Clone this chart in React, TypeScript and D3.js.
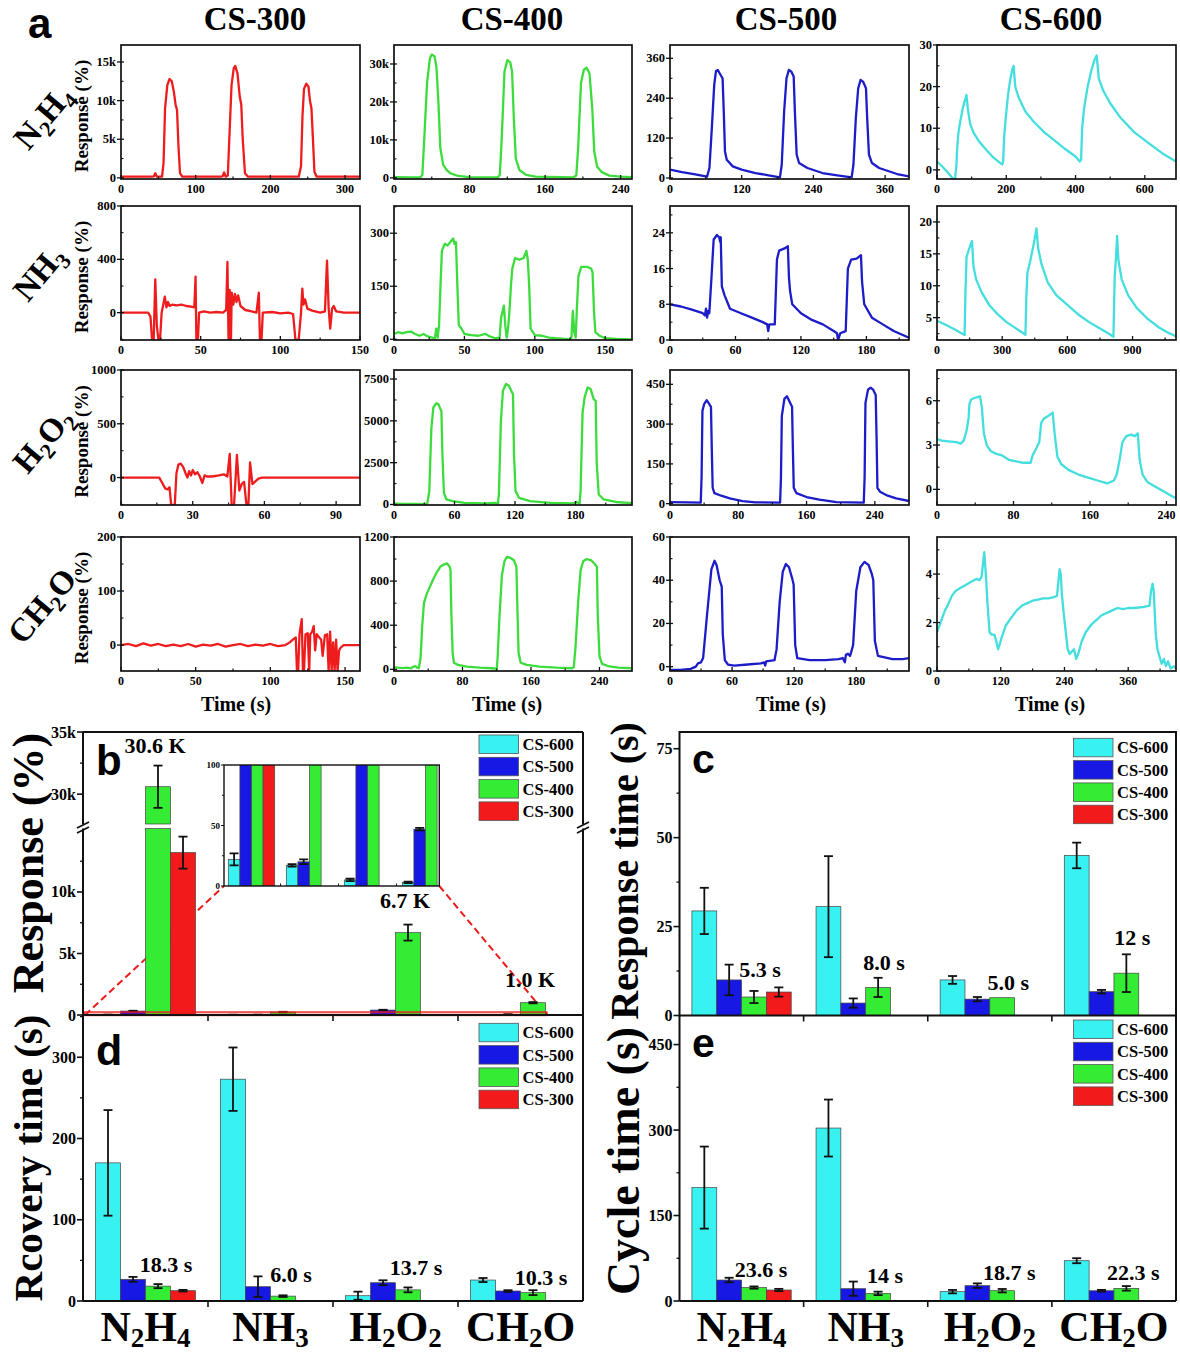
import React from "react";
import * as d3 from "d3";

const SERIF = "'Liberation Serif','Times New Roman',serif";
const SANS = "'Liberation Sans',Arial,sans-serif";

// ---------------- Panel a: time-response curves ----------------
const samples = ["CS-300", "CS-400", "CS-500", "CS-600"];
const lineColors = ["#ee1c1c", "#3ddc3d", "#1c1cc8", "#44dede"];
const gasKeys = ["N2H4", "NH3", "H2O2", "CH2O"];

const n2h4_300 = [[0,150],[40,150],[44,200],[46,600],[48,150],[55,150],[57,2000],[59,9000],[62,12000],[65,12800],[68,12500],[71,11000],[73,9500],[75,8800],[77,4000],[79,600],[82,150],[133,150],[136,200],[138,700],[140,150],[143,300],[145,5000],[148,12000],[151,14200],[153,14500],[156,13500],[159,10500],[161,9500],[163,5000],[166,600],[170,150],[238,150],[241,1500],[243,8000],[245,11500],[248,12200],[251,11800],[253,10000],[255,9000],[257,5000],[259,800],[262,150],[320,150]];
const n2h4_400 = [[0,200],[20,150],[28,150],[30,800],[32,10000],[35,25000],[38,31500],[40,32500],[43,32000],[45,29000],[47,20000],[49,8000],[52,3500],[56,2000],[60,1200],[68,500],[80,200],[110,150],[112,800],[114,10000],[117,28000],[120,31000],[123,30500],[125,28000],[127,15000],[129,5000],[133,2000],[140,800],[150,300],[190,150],[193,600],[195,8000],[198,25000],[201,28500],[204,29000],[207,27500],[210,18000],[212,7000],[215,3000],[220,1500],[228,600],[240,300],[252,200]];
const n2h4_500 = [[0,25],[20,18],[40,12],[62,4],[66,30],[70,150],[74,280],[77,322],[80,325],[84,312],[88,300],[90,200],[92,80],[95,55],[105,35],[120,25],[143,15],[165,8],[184,2],[187,40],[191,200],[195,300],[199,325],[203,320],[207,305],[209,200],[212,70],[216,45],[230,30],[255,15],[280,8],[304,2],[307,40],[311,180],[315,270],[319,295],[323,290],[328,270],[330,180],[333,70],[338,45],[350,30],[380,12],[400,5]];
const n2h4_600 = [[0,2],[15,0.8],[30,-0.5],[45,-2],[52,-2.3],[56,1],[58,5],[62,9],[68,12],[75,15],[80,16.5],[85,18],[90,14],[96,11],[105,9],[120,7],[140,5],[160,3.2],[180,1.8],[188,1.3],[191,2],[194,8],[198,12],[205,18],[212,22],[217,24],[221,25],[226,20],[235,17.5],[255,14],[280,11.5],[310,9],[340,7],[370,5],[400,3.2],[412,2],[416,2.5],[419,10],[425,15],[435,20],[446,24],[455,26.5],[461,27.5],[467,22],[480,19],[500,16],[530,12.5],[570,9],[610,6.5],[650,4],[690,2]];

const nh3_300 = [[0,0],[17,0],[18.5,-30],[19.5,-205],[20.5,-205],[21.5,250],[22.5,-100],[23.5,-205],[24.5,-205],[25.5,0],[26.5,60],[27.5,120],[28.5,40],[29.5,80],[30.5,50],[32,60],[35,55],[38,60],[41,50],[44,45],[46,40],[46.8,270],[47.3,-205],[48.3,-205],[49,0],[52,10],[56,0],[60,5],[64,0],[66,20],[66.8,380],[67.5,-205],[68.2,170],[69,-205],[69.5,150],[70.5,60],[71.5,140],[72.5,80],[73.5,130],[75,50],[78,20],[82,10],[85,0],[86.5,150],[87.2,-205],[88.2,-205],[89,0],[95,5],[100,-5],[105,0],[108,-10],[109.5,-205],[111.5,-205],[113,0],[113.8,180],[114.5,60],[115.5,100],[117,30],[120,15],[125,0],[128,10],[129.3,390],[130.3,40],[131.3,-120],[132.5,30],[133.5,50],[135,10],[140,0],[150,0]];
const nh3_400 = [[0,15],[3,20],[6,17],[9,20],[12,22],[15,15],[18,10],[21,15],[24,8],[27,5],[29,3],[30,30],[31,5],[32,40],[33,150],[34,250],[36,270],[38,265],[40,275],[42,285],[43,270],[44,275],[45,150],[46,40],[48,30],[50,15],[55,12],[60,10],[65,15],[68,8],[72,3],[75,5],[76,60],[78,95],[79,40],[80,5],[81,30],[82,80],[83,150],[84,200],[86,230],[89,225],[92,230],[94,250],[95,225],[96,150],[97,30],[100,12],[105,10],[110,5],[115,3],[125,0],[126,5],[127,80],[128,20],[129,5],[130,100],[131,180],[133,205],[137,205],[140,200],[141,190],[142,80],[143,20],[146,10],[150,3],[158,1],[169,0]];
const nh3_500 = [[0,8],[10,7.5],[20,6.8],[30,6],[32,5.5],[33,7],[34,5],[35,6.5],[36,6],[38,14],[40,22.5],[43,23.5],[45,23],[46,22],[46.5,23],[47.5,12],[50,10],[55,7],[65,6],[75,5],[85,4],[89,3.5],[90,2],[91,3.5],[96,3.5],[98,18],[100,20],[105,20.5],[108,21],[109,14],[110,11],[112,8],[120,6],[130,4.5],[140,3.5],[150,2],[153,1.5],[154,0],[156,1.5],[161,2],[163,16],[166,18],[171,18.2],[175,19],[176,13],[178,8],[185,5],[195,3.5],[205,2],[219,0.5]];
const nh3_600 = [[0,4.5],[40,3.9],[80,3.2],[110,2.6],[127,2.3],[131,9],[136,14.5],[145,15.5],[155,16.5],[161,17],[168,13],[180,11],[205,9],[240,7],[280,5.5],[320,4.3],[360,3.4],[395,2.6],[407,2.3],[411,8],[416,12],[430,14],[445,16.5],[458,19],[465,16],[480,13.5],[510,10.5],[550,8.5],[600,7],[650,5.5],[700,4.3],[750,3.3],[795,2.4],[812,2],[815,7],[818,11.5],[823,14],[829,17.8],[835,14],[850,11],[880,8.5],[920,6.5],[970,4.8],[1020,3.5],[1060,2.7],[1100,2.1]];

const h2o2_300 = [[0,0],[16,0],[17.5,-60],[18.5,-100],[19.5,-110],[20.3,-90],[21,-255],[22.5,-255],[23.2,40],[24,120],[25,130],[26,100],[27,40],[27.8,0],[28.5,60],[29.3,20],[30,70],[31,30],[32,50],[33,10],[34,-50],[35,20],[36,10],[38,10],[41,20],[43,30],[44.5,10],[45.5,220],[46.3,-255],[47.3,-255],[48.5,210],[49.5,-120],[50.5,-60],[51.5,-40],[52.5,-255],[53.3,-255],[54,140],[55,-60],[56,-40],[57.5,-10],[59,0],[100,0]];
const h2o2_400 = [[0,50],[10,40],[20,30],[30,20],[33,60],[35,800],[37,4500],[39,5800],[42,6050],[44,6000],[46,5700],[47,5600],[48,3000],[49.5,700],[52,300],[58,200],[70,100],[90,60],[100,100],[103,50],[104,600],[106,5000],[108,6800],[111,7200],[114,7100],[117,6700],[118,6600],[119,3000],[120.5,800],[124,400],[135,200],[155,100],[178,70],[181,150],[184,60],[185,800],[187,5500],[189,6400],[192,7000],[195,6900],[198,6300],[200,6200],[201,2500],[203,600],[208,300],[220,150],[236,80]];
const h2o2_500 = [[0,6],[20,5],[36,4],[37,100],[38,350],[40,375],[43,390],[46,375],[48,365],[49,200],[50,60],[52,40],[60,30],[70,20],[85,10],[100,5],[129,4],[130,100],[131,330],[134,395],[137,405],[140,385],[143,365],[144,200],[145,60],[148,40],[160,25],[175,15],[195,6],[227,4],[228,100],[229,380],[232,430],[235,437],[238,430],[241,410],[242,250],[243,60],[246,45],[255,30],[265,20],[280,10]];
const h2o2_600 = [[0,3.4],[5,3.3],[12,3.25],[20,3.2],[25,3.1],[28,3.3],[31,4.0],[33,4.8],[34,5.8],[36,6.1],[40,6.2],[45,6.3],[47,5.5],[49,3.8],[52,3.0],[56,2.6],[62,2.4],[68,2.3],[75,2.0],[83,1.9],[90,1.8],[98,1.8],[100,2.3],[104,2.8],[107,3.2],[109,4.5],[112,4.8],[117,5.0],[121,5.2],[123,3.8],[126,2.2],[130,1.7],[138,1.3],[148,1.0],[158,0.8],[168,0.6],[178,0.4],[185,0.6],[188,1.0],[191,2.0],[194,3.2],[198,3.6],[203,3.7],[207,3.6],[210,3.8],[212,2.0],[215,1.0],[220,0.5],[228,0.2],[236,-0.1],[244,-0.4],[250,-0.6]];

const ch2o_300 = [[0,0],[5,2],[10,-2],[15,3],[20,-1],[25,2],[30,-2],[35,1],[40,-2],[45,2],[50,-3],[55,1],[60,-1],[65,2],[70,-3],[75,0],[80,2],[85,-2],[90,1],[95,-1],[100,2],[105,-2],[110,0],[113,5],[115,10],[117,14],[117.8,-48],[118.6,-48],[119.5,20],[121,48],[121.8,-48],[122.5,-48],[123.5,20],[125,22],[126,-48],[126.7,20],[128,25],[129,35],[130,-10],[131,20],[132.5,15],[134,10],[135,-20],[136.5,18],[138,20],[139,-48],[140,25],[141,-48],[142,5],[143,-48],[144,10],[145,-48],[146,-10],[147,-5],[149,0],[160,0]];
const ch2o_400 = [[0,20],[5,15],[10,12],[15,15],[20,10],[23,25],[25,30],[27,15],[29,10],[31,100],[33,400],[35,600],[38,680],[42,750],[46,820],[50,880],[54,930],[58,950],[62,960],[65,930],[66,900],[67,500],[68.5,150],[70,60],[75,40],[85,25],[100,15],[115,10],[120,5],[121,100],[123,450],[126,850],[129,980],[132,1020],[136,1010],[140,990],[143,930],[144,600],[145.5,150],[148,60],[155,40],[170,25],[190,15],[208,10],[210,20],[212,200],[215,600],[218,900],[221,980],[225,1000],[230,990],[234,960],[237,930],[238,500],[240,120],[243,50],[250,30],[262,15],[278,10]];
const ch2o_500 = [[0,-1.5],[10,-1.5],[20,-1],[25,0],[27,1.5],[30,2],[32,4],[36,25],[40,45],[43,49],[45,47],[48,40],[50,37],[51,15],[53,3],[56,1],[62,0.5],[75,1],[88,1.5],[91,2],[92,0.5],[93,2.5],[101,3],[103,8],[106,30],[109,44],[112,47.5],[115,46],[118,41],[119.5,38],[121,10],[123,4],[135,3],[150,3],[163,3.5],[167,4],[169,2],[170,5.5],[172,6],[174,5],[175,6.5],[177,10],[180,35],[184,46],[188,48.5],[192,47],[195,43],[196.5,40],[198,12],[201,5],[215,3.5],[225,3.5],[231,4]];
const ch2o_600 = [[0,1.6],[5,1.9],[10,2.2],[15,2.5],[20,2.7],[28,3.1],[35,3.3],[42,3.4],[50,3.5],[58,3.6],[66,3.7],[74,3.8],[80,3.75],[84,3.9],[87,4.5],[89,4.9],[91,4.3],[93,3.6],[95,2.8],[97,2.2],[99,1.6],[103,1.5],[108,1.5],[112,1.2],[115,0.9],[118,1.1],[122,1.4],[130,1.9],[140,2.2],[150,2.5],[160,2.7],[170,2.8],[180,2.9],[190,2.95],[200,3.0],[210,3.0],[220,3.05],[226,3.1],[229,3.8],[231,4.2],[233,4.0],[235,3.2],[238,2.5],[242,1.7],[246,0.9],[250,0.7],[254,0.8],[258,0.9],[262,0.5],[266,0.7],[272,1.2],[280,1.6],[290,1.9],[300,2.1],[310,2.3],[320,2.4],[330,2.5],[340,2.6],[350,2.55],[360,2.6],[370,2.6],[380,2.62],[390,2.65],[400,2.7],[403,3.3],[406,3.6],[408,3.3],[410,2.4],[412,1.5],[415,0.9],[419,0.6],[423,0.3],[427,0.5],[431,0.2],[435,0.4],[440,0.1],[446,0.2],[450,0.1]];

const xMaxN2H4 = [320, 252, 400, 690];
const yDomN2H4 = [[-150, 17200], [-300, 35000], [-3, 400], [-2.2, 30]];
const xTicksN2H4 = [[0, 100, 200, 300], [0, 80, 160, 240], [0, 120, 240, 360], [0, 200, 400, 600]];
const yTicksN2H4 = [[0, 5000, 10000, 15000], [0, 10000, 20000, 30000], [0, 120, 240, 360], [0, 10, 20, 30]];

const xMaxNH3 = [150, 169, 219, 1100];
const yDomNH3 = [[-205, 800], [-2, 377], [0, 30], [1.5, 22.5]];
const xTicksNH3 = [[0, 50, 100, 150], [0, 50, 100, 150], [0, 60, 120, 180], [0, 300, 600, 900]];
const yTicksNH3 = [[0, 400, 800], [0, 150, 300], [0, 8, 16, 24], [5, 10, 15, 20]];

const xMaxH2O2 = [100, 236, 280, 250];
const yDomH2O2 = [[-255, 1000], [-30, 8040], [-5, 504], [-1.06, 8.08]];
const xTicksH2O2 = [[0, 30, 60, 90], [0, 60, 120, 180], [0, 80, 160, 240], [0, 80, 160, 240]];
const yTicksH2O2 = [[0, 500, 1000], [0, 2500, 5000, 7500], [0, 150, 300, 450], [0, 3, 6]];

const xMaxCH2O = [160, 278, 231, 450];
const yDomCH2O = [[-48, 200], [-15, 1200], [-2, 60], [0, 5.53]];
const xTicksCH2O = [[0, 50, 100, 150], [0, 80, 160, 240], [0, 60, 120, 180], [0, 120, 240, 360]];
const yTicksCH2O = [[0, 100, 200], [0, 400, 800, 1200], [0, 20, 40, 60], [0, 2, 4]];

// ---------------- Panels b-e: bar charts ----------------
const barSeries = ["CS-600", "CS-500", "CS-400", "CS-300"];
const barColors = ["#38f2f2", "#1818e4", "#34ec34", "#f21a1a"];

const respCS600 = [22, 17, 5, 3];
const respCS500 = [320, 20, 400, 47];
const respCS400 = [30600, 240, 6700, 1000];
const respCS300 = [13200, null, null, null];
const respErrCS600 = [5, 1, 1, 0.6];
const respErrCS500 = [25, 2, 25, 1];
const respErrCS400 = [1700, 20, 650, 50];
const respErrCS300 = [1300, 0, 0, 0];

const rtCS600 = [29.4, 30.6, 10, 45];
const rtCS500 = [10, 3.5, 4.6, 6.7];
const rtCS400 = [5.2, 7.9, 5.0, 11.9];
const rtCS300 = [6.6, null, null, null];
const rtErrCS600 = [6.5, 14.2, 1.1, 3.6];
const rtErrCS500 = [4.3, 1.3, 0.6, 0.5];
const rtErrCS400 = [1.7, 2.7, 0, 5.3];
const rtErrCS300 = [1.3, 0, 0, 0];

const recCS600 = [170, 273, 6.5, 25.8];
const recCS500 = [26.7, 17.6, 22.5, 12.3];
const recCS400 = [18.3, 6.0, 13.7, 10.3];
const recCS300 = [12.7, null, null, null];
const recErrCS600 = [65, 39, 5, 2.5];
const recErrCS500 = [3, 12.7, 3, 1];
const recErrCS400 = [2.5, 1, 3, 3];
const recErrCS300 = [1, 0, 0, 0];

const cycCS600 = [199, 303.5, 16.4, 70.7];
const cycCS500 = [36.8, 21.6, 26.9, 18];
const cycCS400 = [23.6, 13.4, 18.1, 22.2];
const cycCS300 = [19.3, null, null, null];
const cycErrCS600 = [72, 50, 3, 4.4];
const cycErrCS500 = [4, 12.5, 4, 1.5];
const cycErrCS400 = [2, 3, 3, 4];
const cycErrCS300 = [2, 0, 0, 0];

const annoRespText = ["30.6 K", "6.7 K", "1.0 K"];
const annoRespGas = [0, 2, 3];
const annoRespLevel = [33290, 8680, 2270];
const annoRtText = ["5.3 s", "8.0 s", "5.0 s", "12 s"];
const annoRtLevel = [10.9, 12.8, 7.2, 19.9];
const annoRecText = ["18.3 s", "6.0 s", "13.7 s", "10.3 s"];
const annoRecLevel = [36, 23.7, 32, 19.7];
const annoCycText = ["23.6 s", "14 s", "18.7 s", "22.3 s"];
const annoCycLevel = [42.6, 31.5, 36.8, 36.8];

// ---------------- layout ----------------
const colBox = [[121, 360], [394, 632], [670, 909], [937, 1176]];
const rowBox = [[45, 179], [206, 340], [370, 505], [537, 671]];
const colTitleX = [255, 512, 786, 1051];
const timeLabelX = [236, 507, 791, 1050];
const rowLabelPos = [[43, 117], [39, 273], [43, 440], [42, 606]];

function Formula({ text, sub, dy }: { text: string; sub: number; dy: number }) {
  const parts: any[] = [];
  let inSub = false;
  text.split("").forEach((ch, i) => {
    const isDigit = /\d/.test(ch);
    if (isDigit && !inSub) {
      parts.push(<tspan key={i} fontSize={sub} dy={dy}>{ch}</tspan>);
      inSub = true;
    } else if (!isDigit && inSub) {
      parts.push(<tspan key={i} dy={-dy}>{ch}</tspan>);
      inSub = false;
    } else if (isDigit) {
      parts.push(<tspan key={i} fontSize={sub}>{ch}</tspan>);
    } else {
      parts.push(<tspan key={i}>{ch}</tspan>);
    }
  });
  return <>{parts}</>;
}

function LinePanel(props: any) {
  const { id, bx, by, xMax, yDom, xTicks, yTicks, kFmt, data, color, yLabel } = props;
  const [x0, x1] = bx;
  const [y0, y1] = by;
  const xs = d3.scaleLinear().domain([0, xMax]).range([x0, x1]);
  const ys = d3.scaleLinear().domain(yDom).range([y1, y0]);
  const path = d3.line<number[]>().x((d) => xs(d[0])).y((d) => ys(d[1]))(data) || "";
  const fmt = (v: number) => (kFmt && v !== 0 ? `${v / 1000}k` : `${v}`);
  const xStep = xTicks[1] - xTicks[0];
  const xMinor = d3.range(xTicks[0] + xStep / 2, xMax, xStep);
  const yStep = yTicks[1] - yTicks[0];
  const yMinor = d3.range(yTicks[0] - yStep / 2, yDom[1], yStep).filter((v) => v > yDom[0]);
  return (
    <g>
      <defs>
        <clipPath id={id}>
          <rect x={x0} y={y0} width={x1 - x0} height={y1 - y0} />
        </clipPath>
      </defs>
      <path d={path} fill="none" stroke={color} strokeWidth={2.3} strokeLinejoin="round" clipPath={`url(#${id})`} />
      <rect x={x0} y={y0} width={x1 - x0} height={y1 - y0} fill="none" stroke="#111" strokeWidth={1.7} />
      {xMinor.map((t: number) => (
        <line key={"xm" + t} x1={xs(t)} x2={xs(t)} y1={y1} y2={y1 - 2.5} stroke="#111" strokeWidth={1.2} />
      ))}
      {xTicks.map((t: number) => (
        <g key={"x" + t}>
          <line x1={xs(t)} x2={xs(t)} y1={y1} y2={y1 - 4} stroke="#111" strokeWidth={1.3} />
          <text x={xs(t)} y={y1 + 14} textAnchor="middle" fontSize={12}>{t}</text>
        </g>
      ))}
      {yMinor.map((t: number) => (
        <line key={"ym" + t} x1={x0} x2={x0 + 2.5} y1={ys(t)} y2={ys(t)} stroke="#111" strokeWidth={1.1} />
      ))}
      {yTicks.map((t: number) => (
        <g key={"y" + t}>
          <line x1={x0 - 4} x2={x0 + 3} y1={ys(t)} y2={ys(t)} stroke="#111" strokeWidth={1.3} />
          <text x={x0 - 5} y={ys(t) + 4} textAnchor="end" fontSize={12.5}>{fmt(t)}</text>
        </g>
      ))}
      {yLabel && (
        <text transform={`translate(88,${(y0 + y1) / 2 + 4}) rotate(-90)`} textAnchor="middle" fontSize={19}>
          Response (%)
        </text>
      )}
    </g>
  );
}

function Legend({ x, y }: { x: number; y: number }) {
  return (
    <g>
      {barSeries.map((s, i) => (
        <g key={s}>
          <rect x={x} y={y + i * 22.3} width={39.5} height={18.5} fill={barColors[i]} stroke="#555" strokeWidth={0.8} />
          <text x={x + 43.5} y={y + i * 22.3 + 15} fontSize={16.5}>{s}</text>
        </g>
      ))}
    </g>
  );
}

function ErrBar({ cx, yTop, yBot }: { cx: number; yTop: number; yBot: number }) {
  return (
    <g stroke="#111" strokeWidth={1.8}>
      <line x1={cx} x2={cx} y1={yTop} y2={yBot} />
      <line x1={cx - 4.5} x2={cx + 4.5} y1={yTop} y2={yTop} />
      <line x1={cx - 4.5} x2={cx + 4.5} y1={yBot} y2={yBot} />
    </g>
  );
}

function BarGroup(props: any) {
  const { gx, sx, vals, errs, yScale, broken } = props;
  const w = sx.bandwidth();
  const out: any[] = [];
  barSeries.forEach((s, si) => {
    gasKeys.forEach((g, gi) => {
      const v = vals[si][gi];
      if (v === null || v === undefined) return;
      const x = (gx(g) as number) + (sx(s) as number);
      const base = yScale(0);
      if (broken && v > broken.max) {
        out.push(<rect key={`l${si}${gi}`} x={x} y={broken.lowTop} width={w} height={base - broken.lowTop} fill={barColors[si]} stroke="#444" strokeWidth={0.7} />);
        out.push(<rect key={`u${si}${gi}`} x={x} y={yScale(v)} width={w} height={broken.upBot - yScale(v)} fill={barColors[si]} stroke="#444" strokeWidth={0.7} />);
      } else {
        const top = yScale(v);
        out.push(<rect key={`b${si}${gi}`} x={x} y={top} width={w} height={Math.max(0.5, base - top)} fill={barColors[si]} stroke="#444" strokeWidth={0.7} />);
      }
      const e = errs[si][gi];
      if (e > 0) {
        out.push(<ErrBar key={`e${si}${gi}`} cx={x + w / 2} yTop={yScale(v + e)} yBot={yScale(Math.max(0, v - e))} />);
      }
    });
  });
  return <g>{out}</g>;
}

function YAxis(props: any) {
  const { x, ticks, minor, yScale, labels, fontSize } = props;
  return (
    <g>
      {minor.map((t: number) => (
        <line key={"m" + t} x1={x - 3} x2={x} y1={yScale(t)} y2={yScale(t)} stroke="#111" strokeWidth={1.3} />
      ))}
      {ticks.map((t: number, i: number) => (
        <g key={"t" + t}>
          <line x1={x - 6} x2={x} y1={yScale(t)} y2={yScale(t)} stroke="#111" strokeWidth={1.6} />
          <text x={x - 7} y={yScale(t) + 5.5} textAnchor="end" fontSize={fontSize || 16}>{labels ? labels[i] : t}</text>
        </g>
      ))}
    </g>
  );
}

function GroupTicks({ gx, y }: { gx: any; y: number }) {
  const bw = gx.bandwidth();
  const [r0] = gx.range();
  return (
    <g>
      {[1, 2, 3].map((i) => (
        <line key={i} x1={r0 + i * bw} x2={r0 + i * bw} y1={y} y2={y + 6} stroke="#111" strokeWidth={1.6} />
      ))}
    </g>
  );
}

function Annos(props: any) {
  const { gx, sx, texts, gases, levels, yScale, dx } = props;
  return (
    <g>
      {texts.map((t: string, i: number) => {
        const gi = gases ? gases[i] : i;
        const cx = (gx(gasKeys[gi]) as number) + (sx("CS-400") as number) + sx.bandwidth() / 2 + dx;
        return (
          <text key={t} x={cx} y={yScale(levels[i])} textAnchor="middle" fontSize={22}>{t}</text>
        );
      })}
    </g>
  );
}

export default function App() {
  const rows = [
    { data: [n2h4_300, n2h4_400, n2h4_500, n2h4_600], xMax: xMaxN2H4, yDom: yDomN2H4, xT: xTicksN2H4, yT: yTicksN2H4 },
    { data: [nh3_300, nh3_400, nh3_500, nh3_600], xMax: xMaxNH3, yDom: yDomNH3, xT: xTicksNH3, yT: yTicksNH3 },
    { data: [h2o2_300, h2o2_400, h2o2_500, h2o2_600], xMax: xMaxH2O2, yDom: yDomH2O2, xT: xTicksH2O2, yT: yTicksH2O2 },
    { data: [ch2o_300, ch2o_400, ch2o_500, ch2o_600], xMax: xMaxCH2O, yDom: yDomCH2O, xT: xTicksCH2O, yT: yTicksCH2O },
  ];

  // ---- bottom layout ----
  const bL = 83, bR = 583, bT = 732, bB = 1015;
  const cL = 679.5, cR = 1176, cT = 732, cB = 1015.5;
  const dT = 1015, dB = 1301;
  const eT = 1015.5, eB = 1301;

  const gxL = d3.scaleBand().domain(gasKeys).range([bL, bR]);
  const sxL = d3.scaleBand().domain(barSeries).range([0, gxL.bandwidth()]).paddingOuter(0.5);
  const gxR = d3.scaleBand().domain(gasKeys).range([cL, cR]);
  const sxR = d3.scaleBand().domain(barSeries).range([0, gxR.bandwidth()]).paddingOuter(0.5);

  const brkMax = 15160;
  const lowerB = d3.scaleLinear().domain([0, brkMax]).range([bB, 828.5]);
  const upperB = d3.scaleLinear().domain([27600, 35000]).range([824, bT]);
  const yB = (v: number) => (v <= brkMax ? lowerB(v) : upperB(v));

  const yC = d3.scaleLinear().domain([0, 79.7]).range([cB, cT]);
  const yD = d3.scaleLinear().domain([0, 352]).range([dB, dT]);
  const yE = d3.scaleLinear().domain([0, 501]).range([eB, eT]);

  const respVals = [respCS600, respCS500, respCS400, respCS300];
  const respErrs = [respErrCS600, respErrCS500, respErrCS400, respErrCS300];
  const rtVals = [rtCS600, rtCS500, rtCS400, rtCS300];
  const rtErrs = [rtErrCS600, rtErrCS500, rtErrCS400, rtErrCS300];
  const recVals = [recCS600, recCS500, recCS400, recCS300];
  const recErrs = [recErrCS600, recErrCS500, recErrCS400, recErrCS300];
  const cycVals = [cycCS600, cycCS500, cycCS400, cycCS300];
  const cycErrs = [cycErrCS600, cycErrCS500, cycErrCS400, cycErrCS300];

  // inset
  const iL = 224, iR = 439.3, iT = 765, iB = 886;
  const gxI = d3.scaleBand().domain(gasKeys).range([222.5, 454.5]);
  const sxI = d3.scaleBand().domain(barSeries).range([0, gxI.bandwidth()]).paddingOuter(0.5);
  const yI = d3.scaleLinear().domain([0, 100]).range([iB, iT]);

  return (
    <svg width={1180} height={1354} style={{ position: "absolute", left: 0, top: 0 }} fontFamily={SERIF} fontWeight="bold">
      <rect width={1180} height={1354} fill="#fff" />

      {/* ===== Panel a ===== */}
      <text x={28} y={38} fontFamily={SANS} fontSize={42} fontWeight="bold">a</text>
      {samples.map((s, i) => (
        <text key={s} x={colTitleX[i]} y={30} textAnchor="middle" fontSize={33}>{s}</text>
      ))}
      {gasKeys.map((g, ri) => (
        <text key={g} transform={`translate(${rowLabelPos[ri][0]},${rowLabelPos[ri][1]}) rotate(-50)`} y={11} textAnchor="middle" fontSize={33}>
          <Formula text={g} sub={22} dy={7} />
        </text>
      ))}
      {rows.map((r, ri) =>
        colBox.map((cb, ci) => (
          <LinePanel
            key={`p${ri}${ci}`}
            id={`clip${ri}${ci}`}
            bx={cb}
            by={rowBox[ri]}
            xMax={r.xMax[ci]}
            yDom={r.yDom[ci]}
            xTicks={r.xT[ci]}
            yTicks={r.yT[ci]}
            kFmt={ri === 0 && ci < 2}
            data={r.data[ci]}
            color={lineColors[ci]}
            yLabel={ci === 0}
          />
        ))
      )}
      {timeLabelX.map((x, i) => (
        <text key={"t" + i} x={x} y={711} textAnchor="middle" fontSize={20}>Time (s)</text>
      ))}

      {/* ===== Panel b ===== */}
      <line x1={bL + 2} y1={bB} x2={iL} y2={iB} stroke="#ee1a1a" strokeWidth={2} strokeDasharray="7,4" />
      <line x1={iR} y1={iB} x2={547} y2={bB} stroke="#ee1a1a" strokeWidth={2} strokeDasharray="7,4" />
      <BarGroup gx={gxL} sx={sxL} vals={respVals} errs={respErrs} yScale={yB} broken={{ max: brkMax, lowTop: 828.5, upBot: 824 }} />
      <rect x={84} y={1012} width={463} height={3.5} fill="rgba(240,20,20,0.25)" stroke="#ee1a1a" strokeWidth={1.3} />
      {/* inset */}
      <defs>
        <clipPath id="insetClip">
          <rect x={iL} y={iT} width={iR - iL} height={iB - iT} />
        </clipPath>
      </defs>
      <rect x={iL} y={iT} width={iR - iL} height={iB - iT} fill="#fff" />
      <g clipPath="url(#insetClip)">
        <BarGroup gx={gxI} sx={sxI} vals={respVals.map((a) => a.map((v) => (v === null ? null : Math.min(v, 120))))} errs={respErrs.map((a, si) => a.map((e, gi) => ((respVals[si][gi] as any) > 100 ? 0 : e)))} yScale={yI} />
      </g>
      <rect x={iL} y={iT} width={iR - iL} height={iB - iT} fill="none" stroke="#111" strokeWidth={1.4} />
      {[0, 50, 100].map((t) => (
        <g key={"it" + t}>
          <line x1={iL - 3} x2={iL} y1={yI(t)} y2={yI(t)} stroke="#111" strokeWidth={1} />
          <text x={iL - 4} y={yI(t) + 3} textAnchor="end" fontSize={9}>{t}</text>
        </g>
      ))}
      {[25, 75].map((t) => (
        <line key={"im" + t} x1={iL - 2} x2={iL} y1={yI(t)} y2={yI(t)} stroke="#111" strokeWidth={1} />
      ))}
      {[1, 2, 3].map((i) => (
        <line key={"ig" + i} x1={222.5 + i * gxI.bandwidth()} x2={222.5 + i * gxI.bandwidth()} y1={iB} y2={iB - 2.5} stroke="#111" strokeWidth={1} />
      ))}
      {/* b frame */}
      <line x1={bL} x2={bR} y1={bT} y2={bT} stroke="#111" strokeWidth={2} />
      <line x1={bL} x2={bL} y1={bT} y2={bB} stroke="#111" strokeWidth={2} />
      <line x1={bR} x2={bR} y1={bT} y2={bB} stroke="#111" strokeWidth={2} />
      <line x1={bL} x2={bR} y1={bB} y2={bB} stroke="#111" strokeWidth={2} />
      {[bL, bR].map((x) => (
        <g key={"brk" + x}>
          <rect x={x - 3} y={824.5} width={6} height={4} fill="#fff" />
          <line x1={x - 6} y1={828} x2={x + 6} y2={822} stroke="#111" strokeWidth={1.6} />
          <line x1={x - 6} y1={833} x2={x + 6} y2={827} stroke="#111" strokeWidth={1.6} />
        </g>
      ))}
      <YAxis x={bL} ticks={[0, 5000, 10000]} minor={[2500, 7500, 12500]} yScale={lowerB} labels={["0", "5k", "10k"]} />
      <YAxis x={bL} ticks={[30000, 35000]} minor={[32500]} yScale={upperB} labels={["30k", "35k"]} />
      <GroupTicks gx={gxL} y={bB} />
      <Annos gx={gxL} sx={sxL} texts={annoRespText} gases={annoRespGas} levels={annoRespLevel} yScale={yB} dx={-3} />
      <Legend x={479} y={735} />
      <text x={96} y={775} fontFamily={SANS} fontSize={42} fontWeight="bold">b</text>
      <text transform={`translate(43,863) rotate(-90)`} textAnchor="middle" fontSize={44}>Response (%)</text>

      {/* ===== Panel c ===== */}
      <BarGroup gx={gxR} sx={sxR} vals={rtVals} errs={rtErrs} yScale={yC} />
      <rect x={cL} y={cT} width={cR - cL} height={cB - cT} fill="none" stroke="#111" strokeWidth={2} />
      <YAxis x={cL} ticks={[0, 25, 50, 75]} minor={[12.5, 37.5, 62.5]} yScale={yC} />
      <GroupTicks gx={gxR} y={cB} />
      <Annos gx={gxR} sx={sxR} texts={annoRtText} levels={annoRtLevel} yScale={yC} dx={6} />
      <Legend x={1073.5} y={738.3} />
      <text x={692} y={773} fontFamily={SANS} fontSize={41} fontWeight="bold">c</text>
      <text transform={`translate(638,871) rotate(-90)`} textAnchor="middle" fontSize={40}>Response time (s)</text>

      {/* ===== Panel d ===== */}
      <BarGroup gx={gxL} sx={sxL} vals={recVals} errs={recErrs} yScale={yD} />
      <line x1={bL} x2={bL} y1={dT} y2={dB} stroke="#111" strokeWidth={2} />
      <line x1={bR} x2={bR} y1={dT} y2={dB} stroke="#111" strokeWidth={2} />
      <line x1={bL} x2={bR} y1={dB} y2={dB} stroke="#111" strokeWidth={2} />
      <YAxis x={bL} ticks={[0, 100, 200, 300]} minor={[50, 150, 250, 350]} yScale={yD} />
      <GroupTicks gx={gxL} y={dB} />
      <Annos gx={gxL} sx={sxL} texts={annoRecText} levels={annoRecLevel} yScale={yD} dx={8} />
      <Legend x={479} y={1023.3} />
      <text x={96} y={1065} fontFamily={SANS} fontSize={43} fontWeight="bold">d</text>
      <text transform={`translate(42,1158) rotate(-90)`} textAnchor="middle" fontSize={41}>Rcovery time (s)</text>
      {gasKeys.map((g) => (
        <text key={"dl" + g} x={(gxL(g) as number) + gxL.bandwidth() / 2} y={1341} textAnchor="middle" fontSize={42}>
          <Formula text={g} sub={27} dy={6} />
        </text>
      ))}

      {/* ===== Panel e ===== */}
      <BarGroup gx={gxR} sx={sxR} vals={cycVals} errs={cycErrs} yScale={yE} />
      <line x1={cL} x2={cL} y1={eT} y2={eB} stroke="#111" strokeWidth={2} />
      <line x1={cR} x2={cR} y1={eT} y2={eB} stroke="#111" strokeWidth={2} />
      <line x1={cL} x2={cR} y1={eB} y2={eB} stroke="#111" strokeWidth={2} />
      <YAxis x={cL} ticks={[0, 150, 300, 450]} minor={[75, 225, 375]} yScale={yE} />
      <GroupTicks gx={gxR} y={eB} />
      <Annos gx={gxR} sx={sxR} texts={annoCycText} levels={annoCycLevel} yScale={yE} dx={7} />
      <Legend x={1073.5} y={1020} />
      <text x={692} y={1057} fontFamily={SANS} fontSize={41} fontWeight="bold">e</text>
      <text transform={`translate(639,1161) rotate(-90)`} textAnchor="middle" fontSize={46}>Cycle time (s)</text>
      {gasKeys.map((g) => (
        <text key={"el" + g} x={(gxR(g) as number) + gxR.bandwidth() / 2} y={1341} textAnchor="middle" fontSize={42}>
          <Formula text={g} sub={27} dy={6} />
        </text>
      ))}
    </svg>
  );
}
